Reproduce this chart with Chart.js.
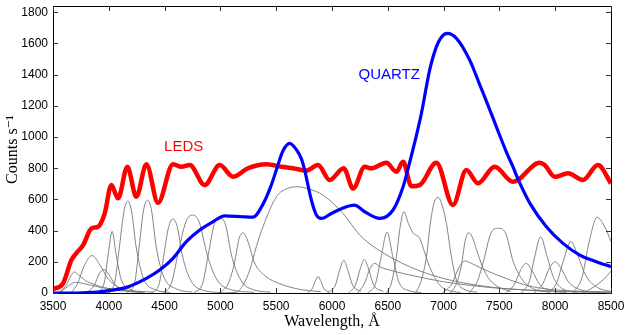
<!DOCTYPE html>
<html>
<head>
<meta charset="utf-8">
<script src="https://cdn.jsdelivr.net/npm/chart.js@4"></script>
<style>
  html, body { margin: 0; padding: 0; background: #fff; }
  #wrap { width: 629px; height: 335px; }
</style>
</head>
<body>
<div id="wrap"><canvas id="specChart" width="629" height="335"></canvas></div>
<script>
// ===============================
// DATA
// ===============================
const xTicks = [3500, 4000, 4500, 5000, 5500, 6000, 6500, 7000, 7500, 8000, 8500];
const yTicks = [0, 200, 400, 600, 800, 1000, 1200, 1400, 1600, 1800];

// summed LED spectrum (red)
const ledsWave = [3500, 3590, 3665, 3710, 3770, 3844, 3904, 3963, 4023, 4083, 4166, 4247, 4337, 4441,
  4575, 4650, 4725, 4859, 4994, 5113, 5247, 5412, 5547, 5650, 5770, 5875, 5979, 6105, 6189, 6293,
  6353, 6487, 6577, 6637, 6711, 6786, 6935, 7084, 7204, 7308, 7458, 7622, 7861, 7906, 7996, 8115,
  8249, 8383, 8500];
const ledsCounts = [25, 62, 211, 256, 307, 414, 425, 510, 692, 607, 809, 617, 826, 578,
  826, 809, 820, 692, 820, 745, 800, 826, 809, 800, 785, 820, 724, 800, 670, 809,
  799, 835, 777, 841, 685, 692, 835, 564, 788, 703, 809, 713, 835, 820, 745, 767,
  724, 820, 703];

// quartz lamp (blue)
const quartzWave = [3500, 3700, 3800, 3900, 4000, 4157, 4337, 4456, 4575, 4695, 4815, 4934, 5039,
  5203, 5292, 5382, 5450, 5502, 5560, 5621, 5680, 5726, 5755, 5815, 5860, 5905, 5995, 6099, 6200,
  6293, 6428, 6547, 6637, 6697, 6741, 6801, 6875, 6935, 6980, 7034, 7115, 7234, 7324, 7400, 7473, 7562,
  7622, 7667, 7771, 7921, 8070, 8220, 8369, 8500];
const quartzCounts = [0, 0, 2, 6, 15, 36, 94, 147, 222, 329, 404, 457, 495,
  489, 487, 570, 680, 790, 910, 959, 920, 860, 788, 596, 500, 478, 510, 545, 563,
  521, 478, 532, 681, 840, 965, 1151, 1429, 1578, 1640, 1664, 1632, 1493, 1335, 1200, 1065, 905,
  808, 730, 578, 425, 318, 243, 201, 168];

// individual LEDs (grey), [wavelength, counts]
const singleLeds = [
  [[3540, 0], [3610, 40], [3650, 95], [3690, 135], [3730, 115], [3790, 80], [3870, 55], [3950, 35], [4100, 15], [4300, 5]],
  [[3560, 0], [3630, 40], [3700, 68], [3780, 60], [3900, 40], [4100, 20], [4400, 5]],
  [[3660, 0], [3720, 60], [3780, 175], [3850, 240], [3920, 180], [3990, 95], [4090, 35], [4250, 8]],
  [[3800, 0], [3870, 50], [3915, 125], [3955, 150], [3995, 125], [4060, 50], [4160, 15], [4300, 3]],
  [[3900, 0], [3960, 70], [3995, 250], [4030, 395], [4065, 250], [4110, 90], [4190, 25], [4320, 3]],
  [[3980, 0], [4050, 60], [4095, 295], [4135, 520], [4170, 590], [4205, 520], [4245, 295], [4310, 95], [4420, 20], [4550, 3]],
  [[4160, 0], [4230, 60], [4272, 295], [4310, 525], [4347, 595], [4384, 525], [4425, 295], [4495, 100], [4610, 25], [4750, 5]],
  [[4380, 0], [4450, 55], [4492, 237], [4535, 420], [4575, 475], [4615, 420], [4660, 237], [4735, 80], [4860, 15], [5000, 3]],
  [[4480, 0], [4560, 60], [4620, 250], [4690, 455], [4750, 500], [4810, 455], [4880, 250], [4965, 90], [5100, 20], [5300, 5]],
  [[4760, 0], [4840, 60], [4890, 240], [4945, 440], [4995, 480], [5045, 440], [5100, 240], [5185, 80], [5300, 20], [5450, 5]],
  [[5000, 0], [5070, 60], [5125, 190], [5168, 350], [5205, 385], [5242, 340], [5307, 192], [5400, 110], [5530, 60], [5700, 25], [5900, 8]],
  [[4980, 0], [5143, 5], [5203, 51], [5263, 147], [5322, 297], [5382, 425], [5502, 617], [5600, 670], [5695, 681],
   [5800, 665], [5919, 628], [6099, 510], [6248, 372], [6398, 285], [6697, 168], [6995, 94], [7300, 50], [7600, 25], [8000, 10], [8500, 4]],
  [[5780, 0], [5825, 30], [5852, 80], [5875, 105], [5898, 80], [5925, 30], [5975, 5]],
  [[5960, 0], [6030, 50], [6070, 150], [6105, 210], [6140, 150], [6185, 50], [6260, 10]],
  [[6150, 0], [6210, 50], [6255, 160], [6290, 215], [6325, 160], [6375, 50], [6460, 10]],
  [[6230, 0], [6290, 60], [6340, 155], [6383, 190], [6428, 168], [6500, 150], [6700, 115], [7000, 72], [7250, 48], [7500, 30], [8000, 12], [8500, 5]],
  [[6320, 0], [6390, 60], [6440, 230], [6493, 390], [6546, 230], [6600, 70], [6690, 15], [6800, 3]],
  [[6490, 0], [6532, 64], [6577, 232], [6610, 420], [6643, 521], [6685, 445], [6726, 385], [6786, 350], [6830, 260], [6875, 168], [6965, 51], [7050, 15], [7150, 3]],
  [[6750, 0], [6801, 83], [6846, 232], [6880, 440], [6915, 580], [6950, 613], [6988, 560], [7025, 447], [7070, 232], [7115, 83], [7180, 25], [7300, 5]],
  [[7060, 0], [7115, 60], [7160, 180], [7195, 340], [7228, 386], [7262, 350], [7294, 280], [7350, 165], [7413, 85], [7500, 35], [7600, 10]],
  [[6990, 0], [7075, 60], [7135, 160], [7190, 205], [7250, 190], [7320, 165], [7413, 135], [7503, 109], [7650, 70], [7800, 40], [8000, 20], [8500, 5]],
  [[7230, 0], [7305, 80], [7360, 210], [7425, 385], [7490, 415], [7555, 385], [7620, 210], [7700, 90], [7810, 25], [7950, 5]],
  [[7560, 0], [7630, 50], [7685, 140], [7740, 190], [7795, 140], [7860, 55], [7960, 15], [8100, 3]],
  [[7700, 0], [7770, 80], [7815, 230], [7870, 360], [7925, 240], [7985, 100], [8070, 25], [8200, 5]],
  [[7810, 0], [7890, 60], [7945, 155], [8000, 200], [8055, 155], [8120, 70], [8230, 20], [8400, 5]],
  [[7930, 0], [8010, 60], [8075, 210], [8140, 330], [8205, 235], [8275, 110], [8380, 35], [8500, 10]],
  [[8160, 0], [8240, 100], [8305, 330], [8375, 485], [8440, 430], [8500, 330]],
  [[8250, 0], [8350, 40], [8430, 85], [8500, 140]]
];

// ===============================
// BUILD DATASETS
// ===============================
function toPoints(xs, ys) {
    return xs.map((x, i) => ({ x: x, y: ys[i] }));
}

const datasets = [];

datasets.push({
    label: "QUARTZ",
    data: toPoints(quartzWave, quartzCounts),
    borderColor: "#0000ff",
    borderWidth: 3.2,
    pointRadius: 0,
    cubicInterpolationMode: "monotone"
});

datasets.push({
    label: "LEDS",
    data: toPoints(ledsWave, ledsCounts),
    borderColor: "#ff0000",
    borderWidth: 4.5,
    pointRadius: 0,
    cubicInterpolationMode: "monotone"
});

singleLeds.forEach((led, i) => {
    datasets.push({
        label: "led" + (i + 1),
        data: led.map(p => ({ x: p[0], y: p[1] })),
        borderColor: "rgba(125,125,125,0.95)",
        borderWidth: 1,
        pointRadius: 0,
        cubicInterpolationMode: "monotone"
    });
});

// ===============================
// FRAME, INWARD TICKS, LABELS
// ===============================
const framePlugin = {
    id: "frame",
    afterDatasetsDraw(chart) {
        const ctx = chart.ctx;
        const a = chart.chartArea;
        const xs = chart.scales.x;
        const ys = chart.scales.y;
        const tl = 5;

        ctx.save();
        ctx.strokeStyle = "#000";
        ctx.lineWidth = 1;
        ctx.strokeRect(Math.round(a.left) + 0.5, Math.round(a.top) + 0.5,
            Math.round(a.right - a.left), Math.round(a.bottom - a.top));

        ctx.strokeStyle = "#333";
        ctx.beginPath();
        xTicks.forEach(v => {
            const px = Math.round(xs.getPixelForValue(v)) + 0.5;
            ctx.moveTo(px, a.bottom);
            ctx.lineTo(px, a.bottom - tl);
            ctx.moveTo(px, a.top);
            ctx.lineTo(px, a.top + tl);
        });
        yTicks.forEach(v => {
            const py = Math.round(ys.getPixelForValue(v)) + 0.5;
            ctx.moveTo(a.left, py);
            ctx.lineTo(a.left + tl, py);
            ctx.moveTo(a.right, py);
            ctx.lineTo(a.right - tl, py);
        });
        ctx.stroke();

        // curve labels
        ctx.font = "15px 'Liberation Sans', Arial, sans-serif";
        ctx.textAlign = "center";
        ctx.textBaseline = "middle";
        ctx.fillStyle = "#ff0000";
        ctx.fillText("LEDS", xs.getPixelForValue(4671), ys.getPixelForValue(935));
        ctx.fillStyle = "#0000ff";
        ctx.fillText("QUARTZ", xs.getPixelForValue(6513), ys.getPixelForValue(1397));
        ctx.restore();
    }
};

function noOverflow(scale) {
    scale.paddingTop = 0;
    scale.paddingBottom = 0;
    scale.paddingLeft = 0;
    scale.paddingRight = 0;
}

// ===============================
// CHART
// ===============================
const ctx = document.getElementById("specChart").getContext("2d");

const specChart = new Chart(ctx, {
    type: "line",
    data: { datasets: datasets },
    options: {
        responsive: false,
        animation: false,
        layout: { padding: { top: 6, right: 18, left: 0, bottom: 0 } },
        plugins: {
            legend: { display: false },
            tooltip: { enabled: false }
        },
        scales: {
            x: {
                type: "linear",
                min: 3500,
                max: 8500,
                grid: { display: false, drawTicks: false },
                border: { display: false },
                afterBuildTicks(scale) { scale.ticks = xTicks.map(v => ({ value: v })); },
                afterFit(scale) { scale.height = 42; noOverflow(scale); },
                ticks: {
                    autoSkip: false,
                    padding: 6,
                    color: "#000",
                    maxRotation: 0,
                    font: { family: "'Liberation Sans', Arial, sans-serif", size: 12 },
                    callback: v => String(v)
                },
                title: {
                    display: true,
                    text: "Wavelength, Å",
                    color: "#000",
                    padding: { top: 0, bottom: 4 },
                    font: { family: "'Liberation Serif', 'DejaVu Serif', serif", size: 16 }
                }
            },
            y: {
                type: "linear",
                min: 0,
                max: 1840,
                grid: { display: false, drawTicks: false },
                border: { display: false },
                afterBuildTicks(scale) { scale.ticks = yTicks.map(v => ({ value: v })); },
                afterFit(scale) { scale.width = 53; noOverflow(scale); },
                ticks: {
                    autoSkip: false,
                    padding: 5,
                    color: "#000",
                    font: { family: "'Liberation Sans', Arial, sans-serif", size: 12 },
                    callback: v => String(v)
                },
                title: {
                    display: true,
                    text: "Counts s⁻¹",
                    color: "#000",
                    padding: { top: 3, bottom: 0 },
                    font: { family: "'Liberation Serif', 'DejaVu Serif', serif", size: 16 }
                }
            }
        }
    },
    plugins: [framePlugin]
});
</script>
</body>
</html>
